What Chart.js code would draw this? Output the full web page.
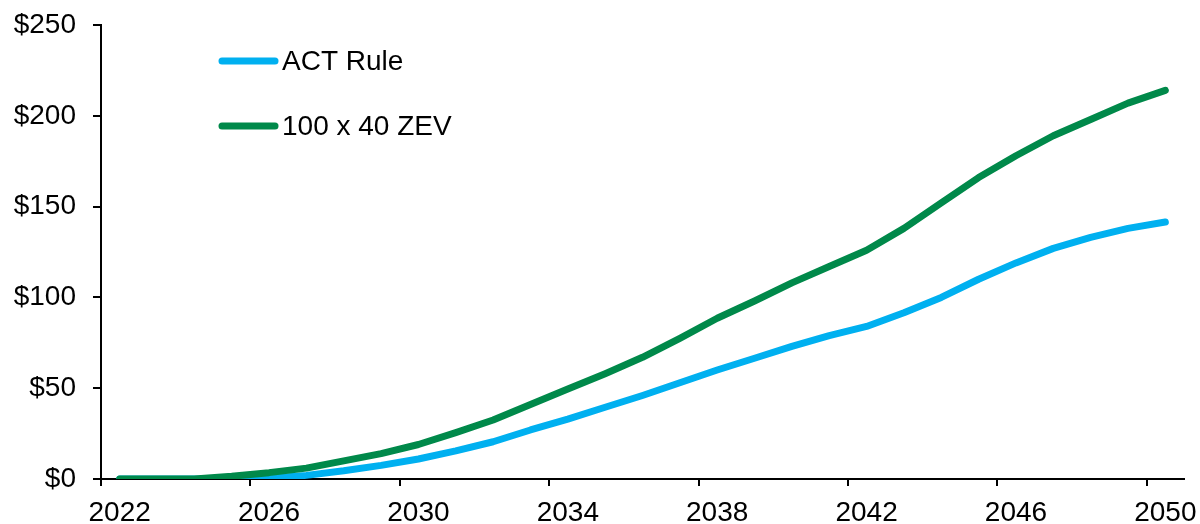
<!DOCTYPE html>
<html>
<head>
<meta charset="utf-8">
<script src="https://cdn.jsdelivr.net/npm/chart.js@4/dist/chart.umd.min.js"></script>
<style>
  html, body { margin: 0; padding: 0; background: #fff; }
  #wrap { width: 1200px; height: 524px; }
</style>
</head>
<body>
<div id="wrap"><canvas id="costChart" width="1200" height="524"></canvas></div>
<script>
// years on the category axis
const years = ['2022', '2023', '2024', '2025', '2026', '2027', '2028', '2029', '2030',
    '2031', '2032', '2033', '2034', '2035', '2036', '2037', '2038', '2039', '2040',
    '2041', '2042', '2043', '2044', '2045', '2046', '2047', '2048', '2049', '2050'];

// cumulative values
const actRule = [0, 0, 0, 0, 0.5, 2, 4.5, 7.5, 11, 15.5, 20.5, 27, 33, 39.5, 46, 53, 60, 66.5, 73,
    79, 84, 91.5, 100, 110, 119, 127, 133, 138, 141.5];
const zev100x40 = [0, 0, 0, 1.5, 3.5, 6, 10, 14, 19, 25.5, 32.5, 41, 49.5, 58, 67, 77.5, 88.5, 98,
    108, 117, 126, 138, 152, 166, 178, 189, 198, 207, 214];

const seriesNames = ['ACT Rule', '100 x 40 ZEV'];
const yTicks = [0, 50, 100, 150, 200, 250];

const FONT = 'Liberation Sans, Arial, sans-serif';

// legend drawn inside the plot, top left
const insideLegend = {
    id: 'insideLegend',
    afterDraw(chart) {
        const ctx = chart.ctx;
        ctx.save();
        ctx.font = '28px ' + FONT;
        ctx.textBaseline = 'middle';
        chart.data.datasets.forEach((ds, i) => {
            const y = 61 + i * 65;
            ctx.strokeStyle = ds.borderColor;
            ctx.lineWidth = 7;
            ctx.lineCap = 'round';
            ctx.beginPath();
            ctx.moveTo(222, y);
            ctx.lineTo(275, y);
            ctx.stroke();
            ctx.fillStyle = '#000';
            ctx.fillText(ds.label, 282, y + 1);
        });
        ctx.restore();
    }
};

new Chart(document.getElementById('costChart'), {
    type: 'line',
    data: {
        labels: years,
        datasets: [
            {
                label: seriesNames[0],
                data: actRule,
                borderColor: '#00B0F0',
                borderWidth: 7,
                borderCapStyle: 'round',
                borderJoinStyle: 'round',
                pointRadius: 0,
                tension: 0,
                order: 2
            },
            {
                label: seriesNames[1],
                data: zev100x40,
                borderColor: '#00894A',
                borderWidth: 7,
                borderCapStyle: 'round',
                borderJoinStyle: 'round',
                pointRadius: 0,
                tension: 0,
                order: 1
            }
        ]
    },
    options: {
        responsive: false,
        animation: false,
        layout: { padding: { top: 25, right: 16, left: 0, bottom: 0 } },
        plugins: {
            legend: { display: false },
            tooltip: { enabled: false }
        },
        scales: {
            x: {
                type: 'category',
                offset: true,
                afterFit: s => {
                    s.height = 45;
                    s.paddingLeft = 0;
                    s.paddingRight = 0;
                },
                border: { display: true, color: '#000', width: 2 },
                grid: {
                    offset: true,
                    drawOnChartArea: false,
                    drawTicks: true,
                    tickLength: 7,
                    lineWidth: 2,
                    color: c => (c.index % 4 === 0 ? '#000' : 'rgba(0,0,0,0)')
                },
                ticks: {
                    autoSkip: false,
                    maxRotation: 0,
                    padding: 10,
                    color: '#000',
                    font: { family: FONT, size: 28 },
                    callback: function (value, index) {
                        return index % 4 === 0 ? this.getLabelForValue(value) : '';
                    }
                }
            },
            y: {
                min: yTicks[0],
                max: yTicks[yTicks.length - 1],
                afterFit: s => {
                    s.width = 101;
                    s.paddingTop = 0;
                    s.paddingBottom = 0;
                },
                afterBuildTicks: s => { s.ticks = yTicks.map(v => ({ value: v })); },
                border: { display: true, color: '#000', width: 2 },
                grid: {
                    drawOnChartArea: false,
                    tickLength: 8,
                    lineWidth: 2,
                    color: '#000'
                },
                ticks: {
                    padding: 17,
                    color: '#000',
                    font: { family: FONT, size: 28 },
                    callback: v => '$' + v
                }
            }
        }
    },
    plugins: [insideLegend]
});
</script>
</body>
</html>
